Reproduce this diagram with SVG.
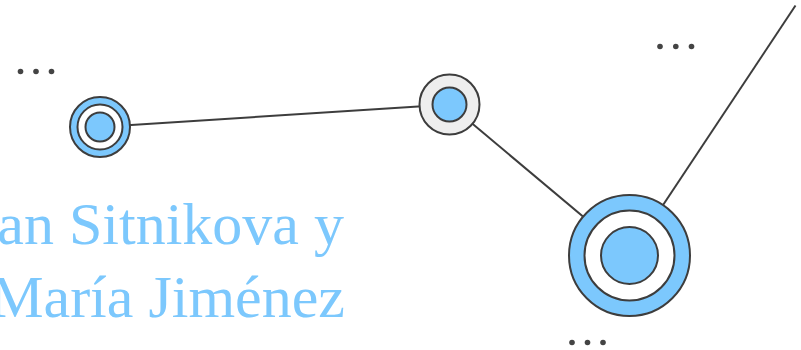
<svg xmlns="http://www.w3.org/2000/svg" width="801" height="350" viewBox="0 0 801 350">
<style>
.edge{stroke:#3d3d3d;stroke-width:2;fill:none}
.st{stroke:#3d3d3d;stroke-width:2}
.blue{fill:#7cc8fd}
.white{fill:#ffffff}
.grey{fill:#eeeeee}
.dot{fill:#444444}
.lbl{font-family:"Liberation Serif","Times New Roman",serif;font-size:60px;fill:#7cc8fd}
</style>
<rect width="801" height="350" fill="#ffffff"/>
<g id="connectors">
<line class="edge" x1="100" y1="127" x2="449.5" y2="104.5"/>
<line class="edge" x1="449.5" y1="104.5" x2="629.5" y2="255.5"/>
<line class="edge" x1="629.5" y1="255.5" x2="795.5" y2="5.5"/>
</g>
<g id="node1">
<circle class="st blue" cx="100" cy="127" r="30"/>
<circle class="st white" cx="100" cy="127" r="22.5"/>
<circle class="st blue" cx="100" cy="127" r="14.5"/>
</g>
<g id="node2">
<circle class="st grey" cx="449.5" cy="104.5" r="30"/>
<circle class="st blue" cx="449.5" cy="104.5" r="17"/>
</g>
<g id="node3">
<circle class="st blue" cx="629.5" cy="255.5" r="60.5"/>
<circle class="st white" cx="629.5" cy="255.5" r="45"/>
<circle class="st blue" cx="629.5" cy="255.5" r="28.5"/>
</g>
<g id="more1">
<circle class="dot" cx="20.5" cy="71.5" r="2.8"/>
<circle class="dot" cx="36" cy="71.5" r="2.8"/>
<circle class="dot" cx="51.5" cy="71.5" r="2.8"/>
</g>
<g id="more2">
<circle class="dot" cx="660" cy="46.5" r="2.8"/>
<circle class="dot" cx="675.8" cy="46.5" r="2.8"/>
<circle class="dot" cx="691.5" cy="46.5" r="2.8"/>
</g>
<g id="more3">
<circle class="dot" cx="572" cy="342.5" r="2.8"/>
<circle class="dot" cx="587.5" cy="342.5" r="2.8"/>
<circle class="dot" cx="603" cy="342.5" r="2.8"/>
</g>
<g id="title">
<text class="lbl" x="344" y="243.5" text-anchor="end">an Sitnikova y</text>
<text class="lbl" x="345" y="316.5" text-anchor="end">María Jiménez</text>
</g>
</svg>
